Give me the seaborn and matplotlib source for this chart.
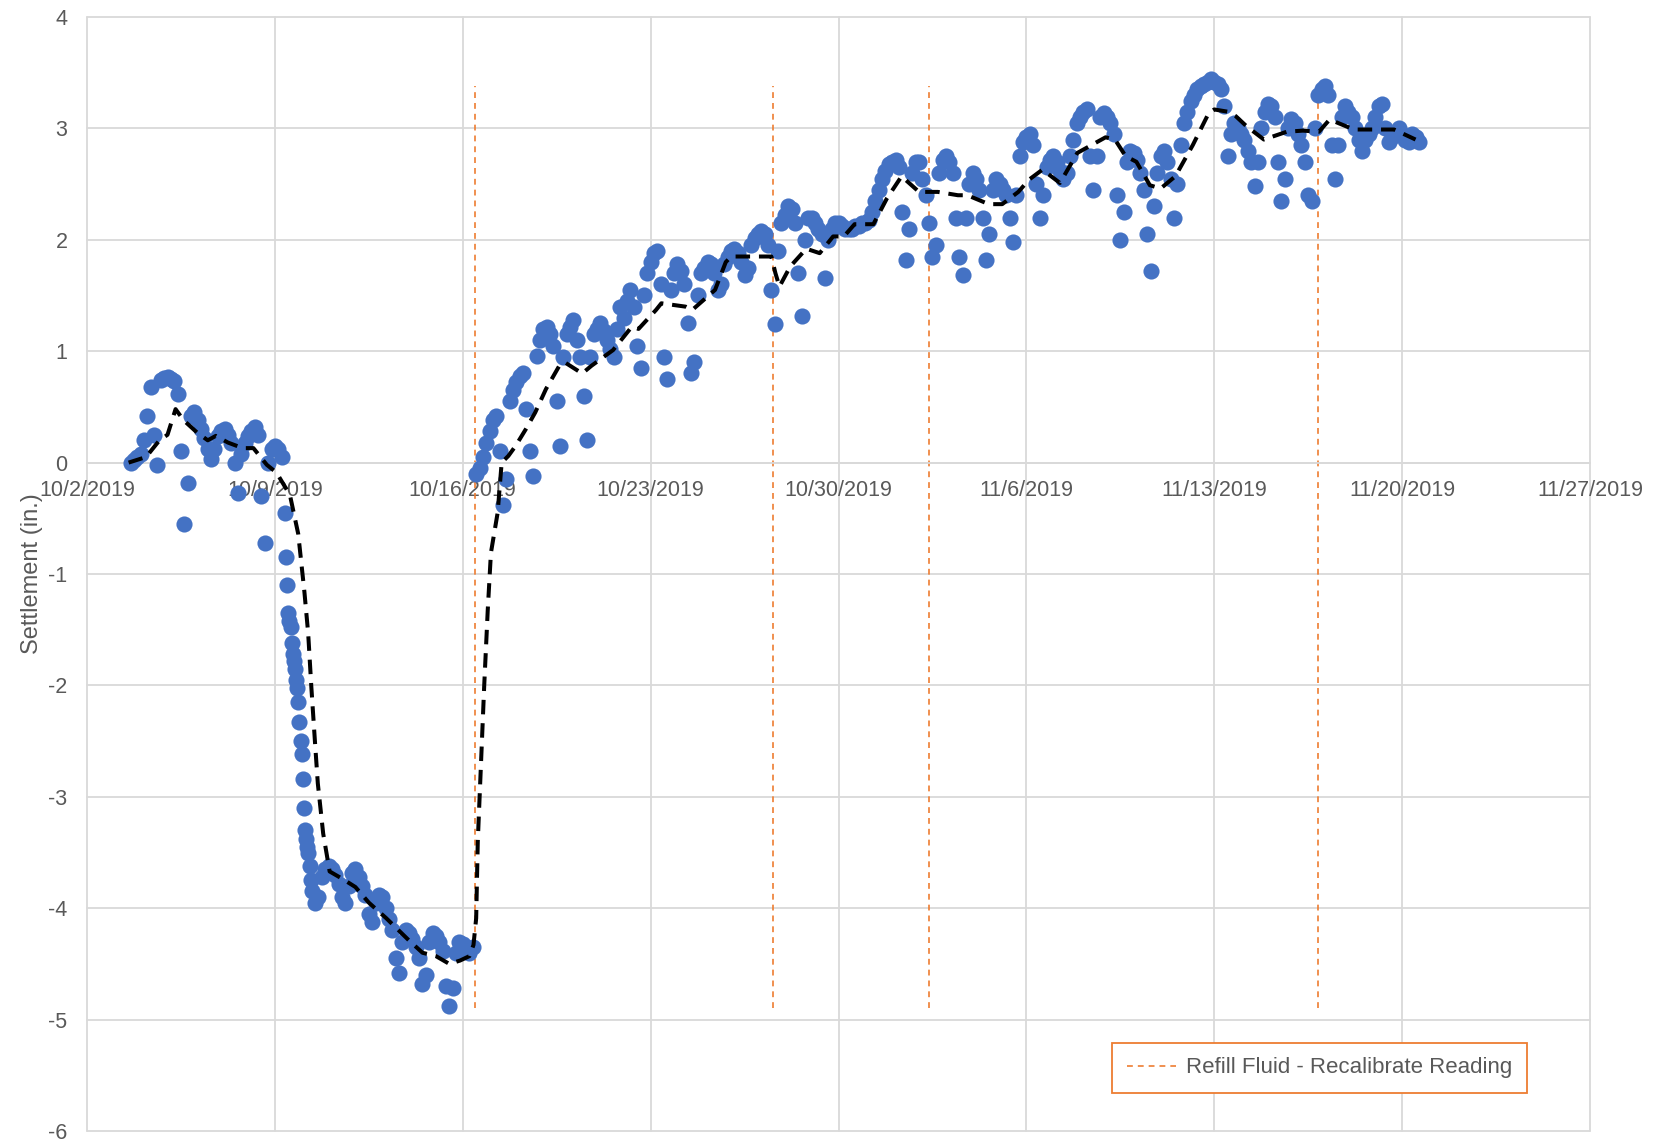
import pandas as pd
import matplotlib
matplotlib.use('Agg')
import matplotlib.pyplot as plt
from matplotlib.lines import Line2D
import seaborn as sns

sns.set_style("white")
plt.rcParams['font.family'] = ['Liberation Sans', 'DejaVu Sans']
plt.rcParams['axes.unicode_minus'] = False

# -------------------------------------------------------
# Settlement readings (in.) - 3-hourly unless noted
# -------------------------------------------------------
READ_OCT03_START = '2019-10-03 15:00'
READ_OCT03 = [0.0, 0.02, 0.05,
              0.08, 0.2, 0.42, 0.68, 0.25, -0.02, 0.74, 0.76,
              0.77, 0.75, 0.73, 0.62, 0.1, -0.55, -0.18, 0.42,
              0.45, 0.38, 0.3, 0.22, 0.12, 0.03, 0.12, 0.24,
              0.28, 0.3, 0.25, 0.18, 0.0, -0.27, 0.08, 0.18,
              0.24, 0.28, 0.32, 0.25, -0.3, -0.72, 0.0, 0.12,
              0.15, 0.12, 0.05, -0.45]

# hourly readings through the drop
DROP_OCT09_START = '2019-10-09 10:00'
DROP_OCT09 = [-0.85, -1.1, -1.35, -1.42, -1.48, -1.62, -1.72, -1.78, -1.85, -1.95,
              -2.02, -2.15, -2.33, -2.5,
              -2.62, -2.84, -3.1, -3.3, -3.38, -3.45, -3.5, -3.62, -3.75]

READ_OCT10_START = '2019-10-10 09:00'
READ_OCT10 = [-3.85, -3.95, -3.9, -3.72, -3.65,
              -3.62, -3.65, -3.7, -3.78, -3.9, -3.95, -3.8, -3.68,
              -3.65, -3.72, -3.8, -3.88, -4.05, -4.12, -3.95, -3.88,
              -3.9, -4.0, -4.1, -4.2, -4.45, -4.58, -4.3, -4.2,
              -4.22, -4.28, -4.35, -4.45, -4.68, -4.6, -4.3, -4.22,
              -4.25, -4.3, -4.38, -4.7, -4.88, -4.72, -4.4, -4.3,
              -4.32, -4.38, -4.4, -4.35]

# continuous after the 10/16 refill
READ_OCT16_START = '2019-10-16 12:00'
READ_OCT16 = [-0.1, -0.05, 0.05, 0.18,
              0.28, 0.38, 0.42, 0.1, -0.38, -0.15, 0.55, 0.65,
              0.72, 0.78, 0.8, 0.48, 0.1, -0.12, 0.96, 1.1,
              1.2, 1.22, 1.15, 1.05, 0.55, 0.15, 0.95, 1.15,
              1.22, 1.28, 1.1, 0.95, 0.6, 0.2, 0.95, 1.15,
              1.2, 1.25, 1.18, 1.1, 1.02, 0.95, 1.2, 1.4,
              1.3, 1.45, 1.55, 1.4, 1.05, 0.85, 1.5, 1.7]
READ_OCT23 = [1.8, 1.88, 1.9, 1.6, 0.95, 0.75, 1.55, 1.7,
              1.78, 1.72, 1.6, 1.25, 0.8, 0.9, 1.5, 1.7,
              1.75, 1.8, 1.78, 1.7, 1.55, 1.6, 1.78, 1.85,
              1.9, 1.92, 1.88, 1.8, 1.68, 1.75, 1.95, 2.02,
              2.05, 2.08, 2.05, 1.95, 1.55, 1.24, 1.9, 2.15,
              2.22, 2.3, 2.28, 2.15, 1.7, 1.32, 2.0, 2.2,
              2.2, 2.15, 2.1, 2.05, 1.66, 2.0, 2.1, 2.15]
READ_OCT30 = [2.15, 2.12, 2.1, 2.1, 2.1, 2.12, 2.12, 2.15,
              2.15, 2.18, 2.25, 2.35, 2.45, 2.55, 2.62, 2.68,
              2.7, 2.72, 2.65, 2.25, 1.82, 2.1, 2.6, 2.7,
              2.7, 2.55, 2.4, 2.15, 1.85, 1.95, 2.6, 2.72,
              2.75, 2.7, 2.6, 2.2, 1.85, 1.68, 2.2, 2.5,
              2.6, 2.55, 2.45, 2.2, 1.82, 2.05, 2.45, 2.55,
              2.5, 2.45, 2.4, 2.2, 1.98, 2.4, 2.75, 2.88]
READ_NOV06 = [2.92, 2.95, 2.85, 2.5, 2.2, 2.4, 2.65, 2.72,
              2.75, 2.7, 2.62, 2.55, 2.6, 2.75, 2.9, 3.05,
              3.1, 3.15, 3.17, 2.75, 2.45, 2.75, 3.1, 3.14,
              3.1, 3.05, 2.95, 2.4, 2.0, 2.25, 2.7, 2.8,
              2.78, 2.72, 2.6, 2.45, 2.05, 1.72, 2.3, 2.6,
              2.75, 2.8, 2.7, 2.55, 2.2, 2.5, 2.85, 3.05,
              3.15, 3.25, 3.3, 3.35, 3.38, 3.4, 3.42, 3.44]
READ_NOV13 = [3.42, 3.4, 3.35, 3.2, 2.75, 2.95, 3.05, 3.0,
              2.95, 2.9, 2.8, 2.7, 2.48, 2.7, 3.0, 3.15,
              3.22, 3.2, 3.1, 2.7, 2.35, 2.55, 3.0, 3.08,
              3.05, 2.95, 2.85, 2.7, 2.4, 2.35, 3.0, 3.3,
              3.35, 3.38, 3.3, 2.85, 2.55, 2.85, 3.1, 3.2,
              3.15, 3.1, 3.0, 2.9, 2.8, 2.9, 2.95, 3.0,
              3.1, 3.2, 3.22, 3.0, 2.88, 2.92, 2.95, 3.0,
              2.95, 2.9, 2.88, 2.95, 2.92, 2.88]

# Moving average (dashed), days after 10/2/2019
MA_DAYS = [1.55, 2.2, 2.7, 3.0, 3.3, 3.6, 4.1, 4.5, 4.8, 5.25,
           5.8, 6.2, 6.7, 7.06, 7.56, 7.87, 8.1, 8.24, 8.36, 8.5,
           8.6, 8.8, 9.04, 9.54, 10.0, 10.5, 11.15, 12.0, 12.5, 13.0,
           13.5, 13.9, 14.25, 14.4, 14.5, 14.56, 14.68, 14.8, 14.93, 15.05,
           15.3, 15.45, 15.7, 15.97, 16.35, 16.7, 17.1, 17.6, 17.8, 18.45,
           18.8, 19.6, 20.3, 20.55, 21.2, 21.4, 22.3, 22.55, 23.4, 23.8,
           24.0, 25.0, 25.5, 25.65, 25.8, 26.2, 26.8, 27.3, 27.8, 28.2,
           28.6, 29.3, 29.8, 30.35, 31.0, 31.7, 32.45, 32.8, 33.6, 34.1,
           34.7, 35.1, 35.6, 36.25, 36.9, 37.95, 38.3, 38.7, 39.1, 39.6,
           40.0, 40.55, 41.2, 41.8, 42.0, 42.5, 42.8, 43.2, 43.85, 44.7,
           45.3, 45.9, 46.3, 47.2, 48.0, 48.7, 49.5]
MA_VALUES = [0.0, 0.05, 0.2, 0.25, 0.48, 0.38, 0.27, 0.2, 0.24, 0.18,
             0.13, 0.13, -0.02, -0.09, -0.29, -0.64, -1.16, -1.53, -2.02, -2.53,
             -2.88, -3.33, -3.67, -3.74, -3.81, -3.95, -4.09, -4.29, -4.4, -4.43,
             -4.5, -4.47, -4.43, -4.33, -4.09, -3.4, -2.7, -2.0, -1.33, -0.81,
             -0.45, 0.0, 0.06, 0.15, 0.3, 0.45, 0.66, 0.87, 0.9, 0.8,
             0.87, 1.01, 1.22, 1.2, 1.37, 1.43, 1.4, 1.37, 1.55, 1.8,
             1.85, 1.85, 1.85, 1.7, 1.58, 1.76, 1.92, 1.88, 2.03, 2.03,
             2.14, 2.14, 2.37, 2.57, 2.43, 2.43, 2.4, 2.4, 2.32, 2.32,
             2.43, 2.54, 2.63, 2.51, 2.78, 2.92, 2.9, 2.75, 2.7, 2.49,
             2.46, 2.57, 2.85, 3.14, 3.17, 3.15, 3.11, 3.02, 2.9, 2.97,
             2.98, 2.97, 3.08, 2.99, 2.99, 2.99, 2.9]

# Refill fluid / recalibration events
REFILL_TIMES = ['2019-10-16 11:00', '2019-10-27 13:00', '2019-11-02 09:00', '2019-11-16 21:00']
REFILL_LOW, REFILL_HIGH = -4.9, 3.38
REFILL_LABEL = 'Refill Fluid - Recalibrate Reading'

X_TICKS = pd.date_range('2019-10-02', '2019-11-27', freq='7D')
Y_TICKS = list(range(-6, 5))
Y_LABEL = 'Settlement (in.)'

BLUE = '#4472C4'
ORANGE = '#ED7D31'
GRID = '#D9D9D9'
TEXT = '#595959'


def readings(start, values, freq='3h'):
    return pd.DataFrame({'time': pd.date_range(start, periods=len(values), freq=freq),
                         'settlement': values})


after_refill = READ_OCT16 + READ_OCT23 + READ_OCT30 + READ_NOV06 + READ_NOV13
df = pd.concat([readings(READ_OCT03_START, READ_OCT03),
                readings(DROP_OCT09_START, DROP_OCT09, '1h'),
                readings(READ_OCT10_START, READ_OCT10),
                readings(READ_OCT16_START, after_refill)], ignore_index=True)

ma = pd.DataFrame({'time': pd.Timestamp('2019-10-02') + pd.to_timedelta(MA_DAYS, unit='D'),
                   'settlement': MA_VALUES})

fig = plt.figure(figsize=(16.55, 11.41), dpi=100)
ax = fig.add_axes([87 / 1655, 10 / 1141, 1503 / 1655, 1114 / 1141])

ax.vlines(pd.to_datetime(REFILL_TIMES), REFILL_LOW, REFILL_HIGH, colors=ORANGE,
          linewidth=1.2, linestyles=(0, (3.5, 3)), zorder=2)
sns.scatterplot(data=df, x='time', y='settlement', color=BLUE, s=135,
                linewidth=0, ax=ax, zorder=3)
sns.lineplot(data=ma, x='time', y='settlement', color='black', linewidth=2.9,
             linestyle='--', sort=False, estimator=None, ax=ax, zorder=4)
ax.lines[-1].set_dashes((3.6, 2.2))

ax.set_xlim(X_TICKS[0], X_TICKS[-1])
ax.set_ylim(Y_TICKS[0], Y_TICKS[-1])
ax.set_xticks(X_TICKS)
ax.set_xticklabels([f"{d.month}/{d.day}/{d.year}" for d in X_TICKS])
ax.set_yticks(Y_TICKS)
ax.set_yticklabels([str(v) for v in Y_TICKS])

ax.set_axisbelow(True)
ax.grid(True, color=GRID, linewidth=1.3, clip_on=False)
for side in ['top', 'right', 'left']:
    ax.spines[side].set_visible(False)
ax.spines['bottom'].set_position(('data', 0))
ax.spines['bottom'].set_color(GRID)
ax.spines['bottom'].set_linewidth(1.3)

ax.tick_params(axis='both', length=0, colors=TEXT, labelsize=15.5)
ax.tick_params(axis='x', pad=12.5)
ax.tick_params(axis='y', pad=14)
ax.set_xlabel('')
ax.set_ylabel(Y_LABEL, fontsize=17, color=TEXT)
ax.yaxis.set_label_coords(-0.029, 0.5)

handle = Line2D([], [], color=ORANGE, linewidth=1.2, linestyle=(0, (3.5, 3)))
leg = ax.legend(handles=[handle], labels=[REFILL_LABEL], loc='lower right',
                bbox_to_anchor=(0.958, 0.034), borderaxespad=0, fontsize=16,
                handlelength=2.2, handletextpad=0.45, borderpad=0.66, fancybox=False,
                edgecolor=ORANGE, labelcolor=TEXT, framealpha=1)
leg.get_frame().set_linewidth(1.3)

fig.savefig('out.png', dpi=100)
plt.close(fig)
